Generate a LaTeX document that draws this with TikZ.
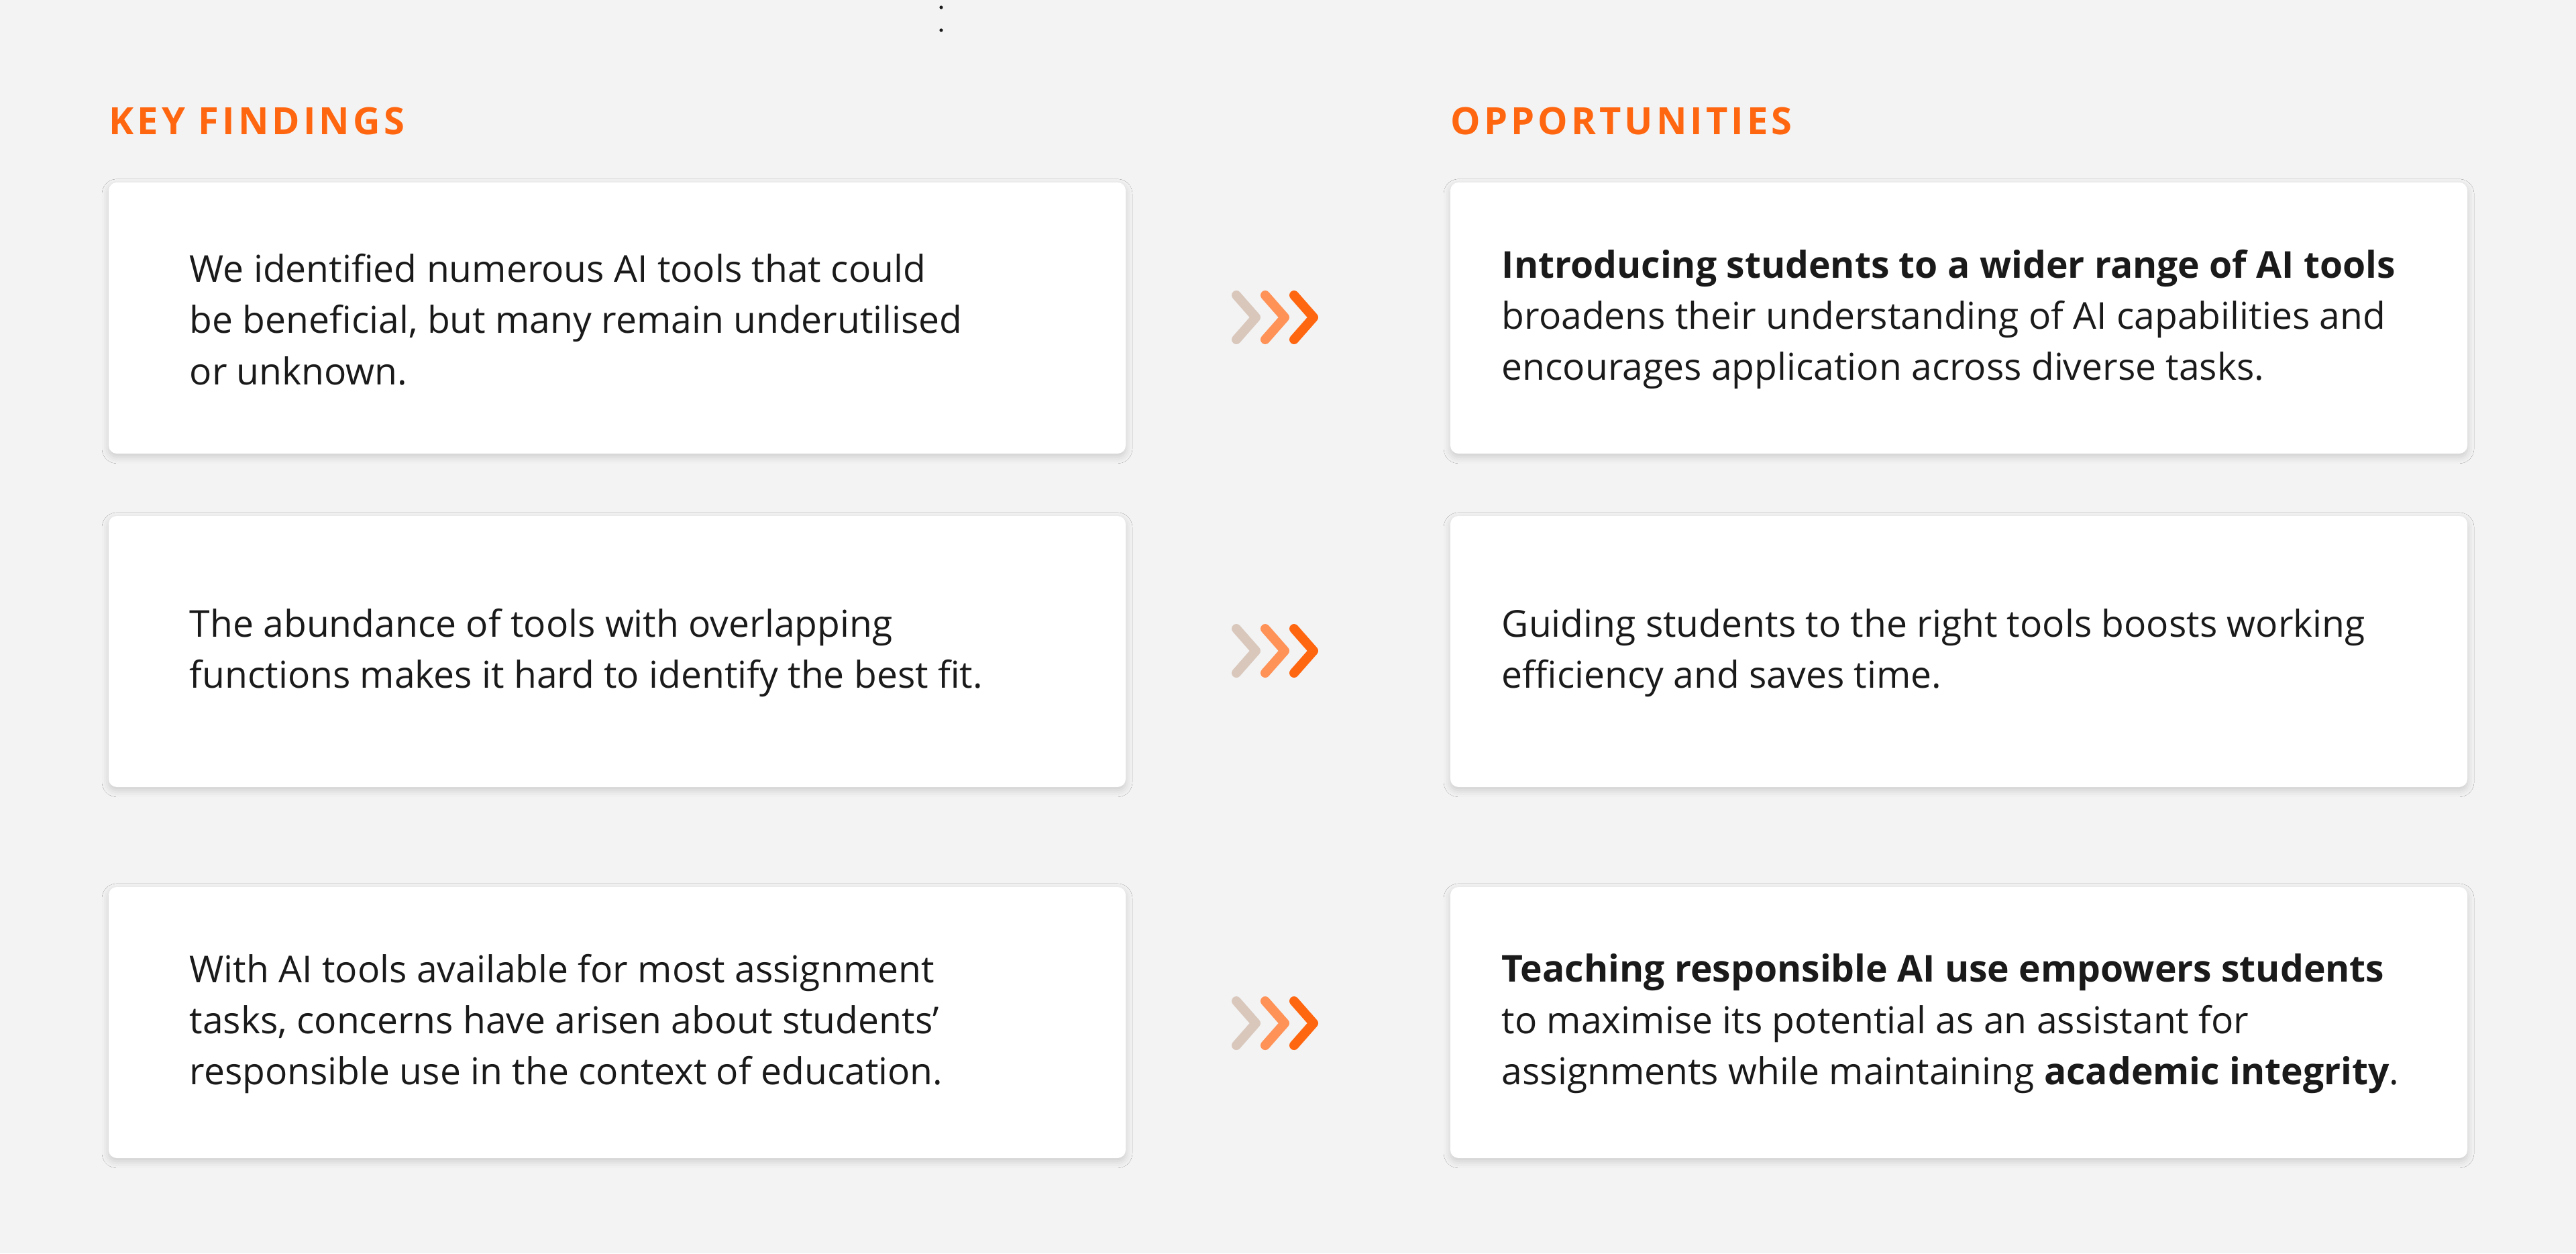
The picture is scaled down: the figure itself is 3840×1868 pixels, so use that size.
\documentclass[tikz,border=0pt]{standalone}
\usepackage{fontspec}
\setmainfont{Open Sans}
\newfontfamily\headfont[LetterSpace=9]{Open Sans}
\usetikzlibrary{shadows.blur}
\definecolor{bgc}{HTML}{F3F3F3}
\definecolor{orng}{HTML}{FF6610}
\definecolor{orngmid}{HTML}{FF9257}
\definecolor{beige}{HTML}{D9C7BC}
\definecolor{ink}{HTML}{1A1A1A}
\tikzset{
  card/.style={fill=white, rounded corners=3pt, minimum width=379pt, minimum height=101pt, inner sep=0pt,
    blur shadow={shadow xshift=0pt, shadow yshift=-1.2pt, shadow blur radius=2.5pt, shadow opacity=16}},
  body/.style={anchor=west, align=left, inner sep=0pt, text=ink, font=\fontsize{13.8pt}{19.1pt}\selectfont},
  heading/.style={anchor=base west, inner sep=0pt, text=orng, font=\headfont\bfseries\fontsize{14pt}{17pt}\selectfont},
  chev/.style={line width=3.5pt, line cap=round, line join=round}
}
\begin{document}
\begin{tikzpicture}[x=0.25pt,y=-0.25pt]
\fill[bgc] (0,0) rectangle (3840,1868);
\useasboundingbox (0,0) rectangle (3840,1868);
\fill[ink] (1403,11) circle (2.6);
\fill[ink] (1403,45) circle (2.6);

\node[heading] (hk) at (162,200) {KEY FINDINGS};
\node[heading] (ho) at (2162,200) {OPPORTUNITIES};

\node[card] (l1) at (920,474) {};
\node[card] (l2) at (920,971) {};
\node[card] (l3) at (920,1524) {};
\node[card] (r1) at (2920,474) {};
\node[card] (r2) at (2920,971) {};
\node[card] (r3) at (2920,1524) {};

\node[body] (tl1) at (282,476) {We identified numerous AI tools that could\\be beneficial, but many remain underutilised\\or unknown.};
\node[body] (tl2) at (282,973) {The abundance of tools with overlapping\\functions makes it hard to identify the best fit.};
\node[body] (tl3) at (282,1526) {With AI tools available for most assignment\\tasks, concerns have arisen about students’\\responsible use in the context of education.};
\node[body] (tr1) at (2238,476) {\textbf{Introducing students to a wider range of AI tools}\\broadens their understanding of AI capabilities and\\encourages application across diverse tasks.};
\node[body] (tr2) at (2238,973) {Guiding students to the right tools boosts working\\efficiency and saves time.};
\node[body] (tr3) at (2238,1526) {\textbf{Teaching responsible AI use empowers students}\\to maximise its potential as an assistant for\\assignments while maintaining \textbf{academic integrity}.};

\foreach \yc in {473,970,1525}{
  \draw[chev, beige] (1843,\yc-33) -- (1872,\yc) -- (1843,\yc+33);
  \draw[chev, orngmid] (1886,\yc-33) -- (1915,\yc) -- (1886,\yc+33);
  \draw[chev, orng] (1929,\yc-33) -- (1958,\yc) -- (1929,\yc+33);
}
\end{tikzpicture}
\end{document}
